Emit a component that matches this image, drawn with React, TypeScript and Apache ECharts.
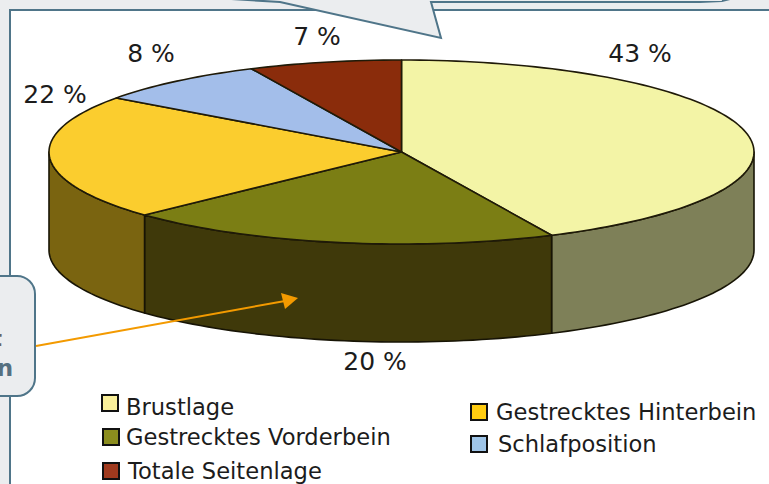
import React, { useEffect, useRef } from "react";
import * as echarts from "echarts";

const categories = ["Brustlage", "Gestrecktes Vorderbein", "Gestrecktes Hinterbein", "Schlafposition", "Totale Seitenlage"];
const values = [43, 20, 22, 8, 7];
const topColors = ["#F3F4A6", "#7B7E14", "#FBCD2E", "#A3BEEA", "#8A2C0B"];
const sideColors = ["#7E8058", "#3F390A", "#7A6410", "#5A6A85", "#4A1A08"];
const legendColors = ["#FAF09A", "#8B8D1E", "#FFCC11", "#9FC5E8", "#A03A1E"];

const FONT = "'DejaVu Sans', Verdana, sans-serif";
const BORDER = "#4F7589";
const PAGE = "#EBEDEF";
const TEXT = "#1c1c1c";

const CX = 401.5, CY = 152, RX = 352.5, RY = 92, DEPTH = 98;
const total = values.reduce((a, b) => a + b, 0);

const pt = (deg: number, dy = 0): number[] => {
  const r = (deg * Math.PI) / 180;
  return [CX + RX * Math.sin(r), CY - RY * Math.cos(r) + dy];
};
const arc = (a: number, b: number, dy = 0): number[][] => {
  const n = Math.max(2, Math.ceil(Math.abs(b - a) / 1.5));
  const out: number[][] = [];
  for (let i = 0; i <= n; i++) out.push(pt(a + ((b - a) * i) / n, dy));
  return out;
};

const renderSlice = (params: any, api: any) => {
  const i = params.dataIndex;
  let before = 0;
  for (let k = 0; k < i; k++) before += values[k];
  const a = (before / total) * 360;
  const b = ((before + api.value(0)) / total) * 360;
  const children: any[] = [];
  const sa = Math.max(a, 90), sb = Math.min(b, 270);
  if (sb > sa) {
    children.push({
      type: "polygon",
      shape: { points: [...arc(sa, sb), ...arc(sb, sa, DEPTH)] },
      style: { fill: sideColors[i], stroke: "#171405", lineWidth: 1.6, lineJoin: "round" },
    });
  }
  children.push({
    type: "polygon",
    shape: { points: [[CX, CY], ...arc(a, b)] },
    style: { fill: topColors[i], stroke: "#1f1a08", lineWidth: 1.6, lineJoin: "round" },
  });
  return { type: "group", children };
};

const labelAnchors = [[640, 53], [375, 361], [55, 94], [151, 53], [317, 36]];
const legendAnchors = [[101, 394, 126, 407], [102, 428, 126, 437], [470, 403, 496, 412], [470, 435, 498, 444], [102, 462, 128, 471]];

const buildGraphics = () => {
  const g: any[] = [];
  g.push({ type: "rect", z: 0, shape: { x: 10, y: 10, width: 800, height: 520 }, style: { fill: "#fff", stroke: BORDER, lineWidth: 2 } });
  return g;
};

const overlay = () => {
  const g: any[] = [];
  values.forEach((v, i) => {
    g.push({
      type: "text", z: 20, x: labelAnchors[i][0], y: labelAnchors[i][1],
      style: { text: `${v} %`, fill: TEXT, font: `25px ${FONT}`, align: "center", verticalAlign: "middle" },
    });
  });
  categories.forEach((c, i) => {
    const [bx, by, tx, ty] = legendAnchors[i];
    g.push({ type: "rect", z: 20, shape: { x: bx + 1, y: by + 1, width: 16, height: 16 }, style: { fill: legendColors[i], stroke: "#111", lineWidth: 2 } });
    g.push({ type: "text", z: 20, x: tx, y: ty, style: { text: c, fill: TEXT, font: `22.6px ${FONT}`, align: "left", verticalAlign: "middle" } });
  });
  g.push({ type: "line", z: 30, shape: { x1: 36, y1: 346, x2: 285, y2: 301 }, style: { stroke: "#F39A00", lineWidth: 2 } });
  g.push({ type: "polygon", z: 30, shape: { points: [[298, 298], [281, 293], [285, 309]] }, style: { fill: "#F39A00" } });
  g.push({ type: "rect", z: 31, shape: { x: -30, y: 276, width: 65, height: 120, r: 18 }, style: { fill: PAGE, stroke: BORDER, lineWidth: 2 } });
  g.push({ type: "text", z: 32, x: 2, y: 338, style: { text: "t", fill: "#666", font: `bold 22px ${FONT}`, align: "right", verticalAlign: "middle" } });
  g.push({ type: "text", z: 32, x: 13, y: 368, style: { text: "n", fill: "#567080", font: `bold 23px ${FONT}`, align: "right", verticalAlign: "middle" } });
  g.push({
    type: "polygon", z: 31,
    shape: { points: [[215, -2], [280, 2], [441, 38], [431, 2], [700, 2], [722, 1], [738, -3]] },
    style: { fill: PAGE, stroke: BORDER, lineWidth: 2 },
  });
  return g;
};

export default function App() {
  const ref = useRef<HTMLDivElement>(null);
  useEffect(() => {
    const chart = echarts.init(ref.current!, undefined, { renderer: "svg" });
    chart.setOption({
      animation: false,
      backgroundColor: PAGE,
      graphic: { elements: [...buildGraphics(), ...overlay()] },
      series: [
        {
          type: "custom",
          coordinateSystem: "none",
          z: 10,
          renderItem: renderSlice,
          data: values.map((v, i) => ({ name: categories[i], value: [v] })),
          clip: false,
        },
      ],
    });
    return () => chart.dispose();
  }, []);
  return <div ref={ref} style={{ position: "fixed", left: 0, top: 0, width: 769, height: 484 }} />;
}
